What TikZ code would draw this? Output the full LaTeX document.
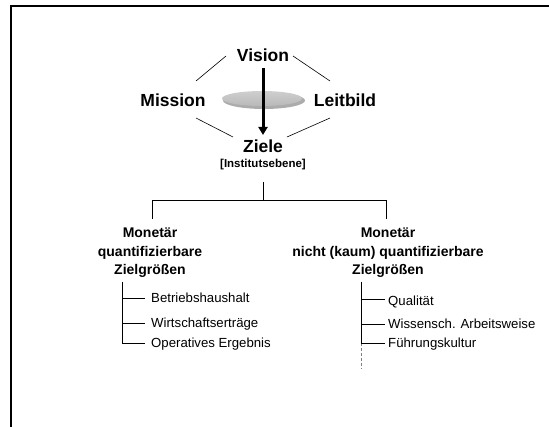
\documentclass[tikz,border=0pt]{standalone}
\usepackage{fontspec}
\setmainfont{Liberation Sans}
\usetikzlibrary{arrows.meta}
\begin{document}
\begin{tikzpicture}[x=1pt,y=-1pt,
  big/.style={font=\fontsize{17.5}{20}\selectfont\bfseries, inner sep=0pt, anchor=base},
  small/.style={font=\fontsize{11.5}{13}\selectfont\bfseries, inner sep=0pt, anchor=base},
  head/.style={font=\fontsize{14}{18.5}\selectfont\bfseries, align=center, inner sep=0pt},
  item/.style={font=\fontsize{13.2}{15}\selectfont, inner sep=0pt, anchor=mid west},
  thin/.style={line width=0.6pt},
  tree/.style={line width=0.8pt},
  frame/.style={line width=1.1pt}]
\useasboundingbox (0,0) rectangle (549,427);
\draw[frame] (11,427) -- (11,6) -- (549,6);

% disc
\fill[gray!65] (264,100.5) ellipse [x radius=41, y radius=8.5];
\shade[top color=gray!38, bottom color=gray!55] (262,98.5) ellipse [x radius=40, y radius=7.5];

% top texts
\node[big] (vision) at (263,62) {Vision};
\node[big] (mission) at (173,107) {Mission};
\node[big] (leitbild) at (345,107) {Leitbild};
\node[big] (ziele) at (263,153) {Ziele};
\node[small] (inst) at (263,168) {[Institutsebene]};

% diamond lines
\coordinate (vm1) at (226,56); \coordinate (vm2) at (196,81);
\coordinate (vl1) at (293,56); \coordinate (vl2) at (330,81);
\coordinate (mz1) at (196,118); \coordinate (mz2) at (233,137);
\coordinate (lz1) at (330,118); \coordinate (lz2) at (287,137);
\draw[thin] (vm1) -- (vm2);
\draw[thin] (vl1) -- (vl2);
\draw[thin] (mz1) -- (mz2);
\draw[thin] (lz1) -- (lz2);

% thick arrow
\coordinate (as) at (263,68); \coordinate (ae) at (263,135);
\draw[line width=3pt, -{Triangle[length=8pt,width=9pt]}] (as) -- (ae);

% tree
\coordinate (t0) at (263,182); \coordinate (tj) at (263,200);
\coordinate (tl) at (152,200); \coordinate (tle) at (152,219);
\coordinate (tr) at (386,200); \coordinate (tre) at (386,219);
\draw[tree] (t0) -- (tj);
\draw[tree] (tle) -- (tl) -- (tr) -- (tre);

\node[head] (hl) at (150,253) {Monetär\\quantifizierbare\\Zielgrößen};
\node[head] (hr) at (388,253) {Monetär\\nicht (kaum) quantifizierbare\\Zielgrößen};

% left list
\coordinate (l0) at (122,282);
\coordinate (l1) at (122,298); \coordinate (l1e) at (145,298);
\coordinate (l2) at (122,323); \coordinate (l2e) at (145,323);
\coordinate (l3) at (122,343); \coordinate (l3e) at (145,343);
\draw[tree] (l0) -- (l3) -- (l3e);
\draw[tree] (l1) -- (l1e);
\draw[tree] (l2) -- (l2e);
\node[item] (b1) at (151,300) {Betriebshaushalt};
\node[item] (b2) at (151,324.5) {Wirtschaftserträge};
\node[item] (b3) at (151,344.5) {Operatives Ergebnis};

% right list
\coordinate (r0) at (361,282);
\coordinate (r1) at (361,299); \coordinate (r1e) at (385,299);
\coordinate (r2) at (361,324); \coordinate (r2e) at (385,324);
\coordinate (r3) at (361,343); \coordinate (r3e) at (385,343);
\coordinate (r4) at (361,369);
\draw[tree] (r0) -- (r3);
\draw[tree, gray, dash pattern=on 3pt off 2pt] (r3) -- (r4);
\draw[tree] (r1) -- (r1e);
\draw[tree] (r2) -- (r2e);
\draw[tree] (r3) -- (r3e);
\node[item] (q1) at (388,303) {Qualität};
\node[item] (q2) at (388,325.5) {Wissensch. Arbeitsweise};
\node[item] (q3) at (388,345) {Führungskultur};
\end{tikzpicture}
\end{document}
